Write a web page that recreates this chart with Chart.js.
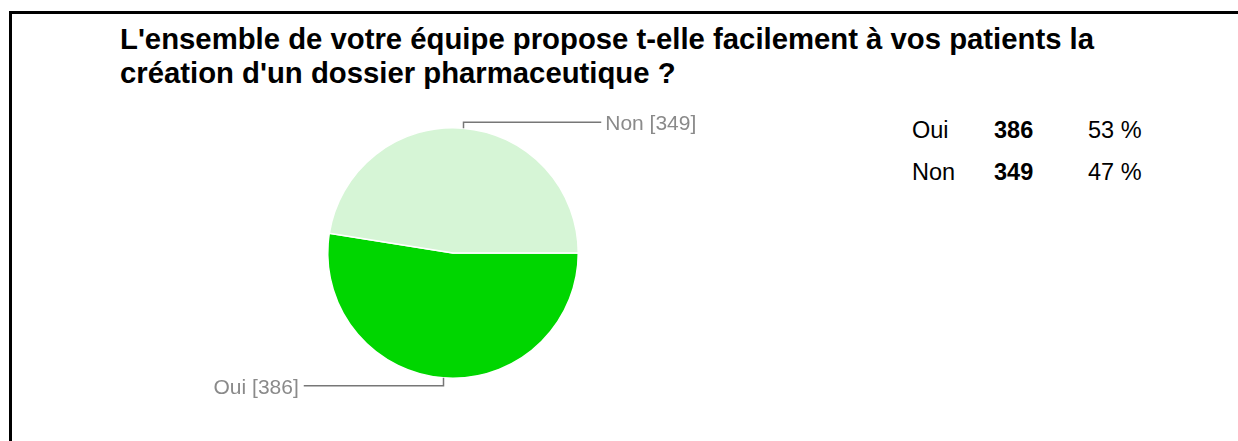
<!DOCTYPE html>
<html>
<head>
<meta charset="utf-8">
<script src="https://cdn.jsdelivr.net/npm/chart.js@4.4.1/dist/chart.umd.min.js"></script>
<style>
  html, body { margin:0; padding:0; background:#fff; width:1238px; height:441px; overflow:hidden; font-family:"Liberation Sans", Arial, sans-serif; }
  #frame { position:absolute; left:9px; top:11px; width:1300px; height:500px; border-top:3px solid #000; border-left:3px solid #000; }
  #title { position:absolute; left:120px; top:22px; font-weight:bold; font-size:29.3px; line-height:34px; color:#000; white-space:nowrap; }
  #chartWrap { position:absolute; left:0; top:0; width:1238px; height:441px; }
  .cell { position:absolute; font-size:23.5px; color:#000; white-space:nowrap; line-height:30px; }
  .b { font-weight:bold; }
</style>
</head>
<body>
<div id="frame"></div>
<div id="title"></div>
<div id="table"></div>
<div id="chartWrap"><canvas id="c" width="1238" height="441"></canvas></div>
<script>
const titleLines = ["L'ensemble de votre équipe propose t-elle facilement à vos patients la", "création d'un dossier pharmaceutique ?"];
const categories = ["Oui", "Non"];
const counts = [386, 349];
const percents = ["53 %", "47 %"];
const colors = ["#00d600", "#d6f5d6"];

document.getElementById('title').innerHTML = titleLines.join('<br>');
const table = document.getElementById('table');
const colX = [912, 994, 1088];
categories.forEach((cat, i) => {
  const y = 115 + i * 42;
  const vals = [cat, String(counts[i]), percents[i]];
  vals.forEach((v, j) => {
    const s = document.createElement('span');
    s.className = 'cell' + (j === 1 ? ' b' : '');
    s.style.left = colX[j] + 'px';
    s.style.top = y + 'px';
    s.textContent = v;
    table.appendChild(s);
  });
});

const leaderPlugin = {
  id: 'leaders',
  afterDraw(chart) {
    const ctx = chart.ctx;
    const meta = chart.getDatasetMeta(0);
    ctx.save();
    ctx.font = '21px "Liberation Sans", Arial, sans-serif';
    ctx.fillStyle = '#8a8a8a';
    ctx.strokeStyle = '#777';
    ctx.lineWidth = 1.5;
    ctx.textBaseline = 'middle';
    meta.data.forEach((arc, i) => {
      const mid = (arc.startAngle + arc.endAngle) / 2;
      const r = arc.outerRadius;
      const px = arc.x + Math.cos(mid) * r;
      const py = arc.y + Math.sin(mid) * r;
      const up = Math.sin(mid) < 0;
      const yy = up ? py - 6 : py + 8;
      const right = up;
      const ex = right ? arc.x + r + 23 : arc.x - r - 24;
      ctx.beginPath();
      ctx.moveTo(Math.round(px) + 0.5, py);
      ctx.lineTo(Math.round(px) + 0.5, yy);
      ctx.lineTo(ex, yy);
      ctx.stroke();
      const label = categories[i] + ' [' + counts[i] + ']';
      ctx.textAlign = right ? 'left' : 'right';
      ctx.fillText(label, right ? ex + 4 : ex - 5, yy + 2);
    });
    ctx.restore();
  }
};

new Chart(document.getElementById('c'), {
  type: 'pie',
  data: {
    labels: categories,
    datasets: [{ data: counts, backgroundColor: colors, borderColor: '#ffffff', borderWidth: 1.5 }]
  },
  options: {
    responsive: false,
    animation: false,
    rotation: 90,
    layout: { padding: { left: 327, right: 1238 - 579, top: 127, bottom: 441 - 379 } },
    plugins: { legend: { display: false }, tooltip: { enabled: false }, title: { display: false } }
  },
  plugins: [leaderPlugin]
});
</script>
</body>
</html>
